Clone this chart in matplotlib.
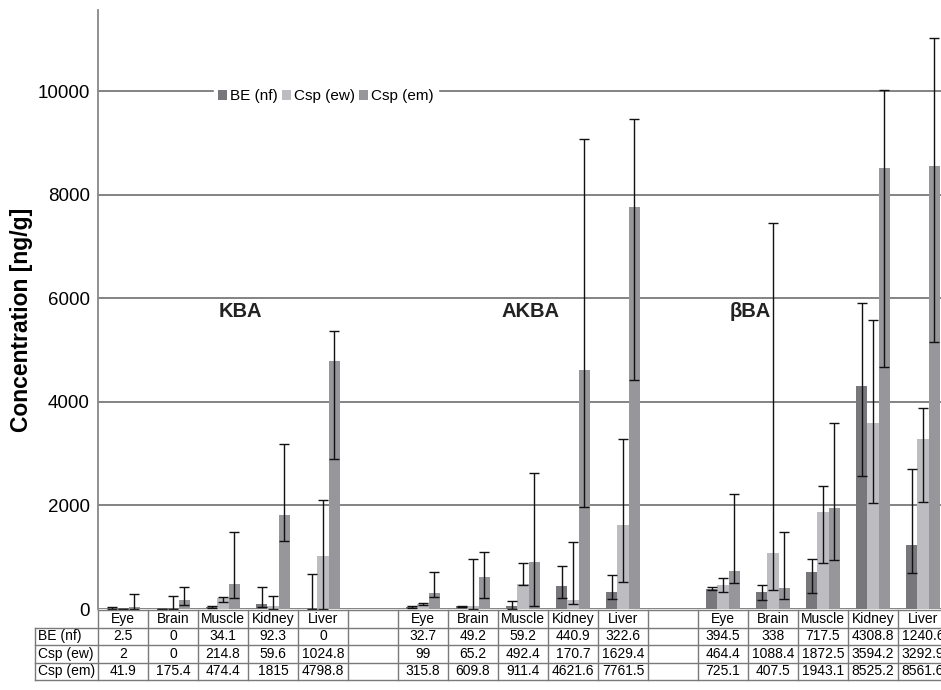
import numpy as np
import matplotlib
matplotlib.use("Agg")
import matplotlib.pyplot as plt

plt.rcParams["font.family"] = ["Liberation Sans", "DejaVu Sans"]

# ── data ──────────────────────────────────────────────────────────────────────
tissues = ["Eye", "Brain", "Muscle", "Kidney", "Liver"]
groups = ["KBA", "AKBA", "βBA"]
series = ["BE (nf)", "Csp (ew)", "Csp (em)"]

be_nf  = [2.5, 0, 34.1, 92.3, 0,
          32.7, 49.2, 59.2, 440.9, 322.6,
          394.5, 338, 717.5, 4308.8, 1240.6]
csp_ew = [2, 0, 214.8, 59.6, 1024.8,
          99, 65.2, 492.4, 170.7, 1629.4,
          464.4, 1088.4, 1872.5, 3594.2, 3292.9]
csp_em = [41.9, 175.4, 474.4, 1815, 4798.8,
          315.8, 609.8, 911.4, 4621.6, 7761.5,
          725.1, 407.5, 1943.1, 8525.2, 8561.6]

# error bars (plus / minus)
be_nf_up  = [35, 0, 15, 333, 670,   20, 15, 103, 396, 340,   25, 132, 256, 1608, 1464]
be_nf_dn  = [2.5, 0, 15, 47, 0,    20, 15, 59, 223, 124,    25, 170, 415, 1739, 551]
csp_ew_up = [0, 257, 25, 197, 1087,  25, 895, 403, 1130, 1649,  135, 6375, 504, 1990, 591]
csp_ew_dn = [0, 0, 75, 59.6, 1024.8, 28, 65.2, 28, 80, 1101,   136, 721, 978, 1554, 1220]
csp_em_up = [250, 256, 1008, 1367, 572,  392, 497, 1722, 4452, 1700,  1491, 1086, 1650, 1496, 2470]
csp_em_dn = [41.9, 104, 268, 507, 1907,  78, 390, 847, 2645, 3337,   217, 207, 996, 3855, 3398]

yticks = [0, 2000, 4000, 6000, 8000, 10000]

# ── layout ────────────────────────────────────────────────────────────────────
W, H = 941, 690
colors = ["#77777c", "#bdbdc1", "#96969b"]
line_gray = "#7a7a7a"

# column positions: 5 tissues, blank, 5 tissues, blank, 5 tissues
xpos = np.array([g * 6 + i for g in range(3) for i in range(5)], dtype=float)
n_cols = 17

fig = plt.figure(figsize=(W / 100, H / 100), dpi=100)
ax = fig.add_axes([98 / W, (H - 609) / H, 850 / W, 599 / H])

bw = 0.225
vals = [be_nf, csp_ew, csp_em]
ups = [be_nf_up, csp_ew_up, csp_em_up]
dns = [be_nf_dn, csp_ew_dn, csp_em_dn]
for k in range(3):
    x = xpos + (k - 1) * bw
    ax.bar(x, vals[k], width=bw, color=colors[k], label=series[k], zorder=3)
    ax.errorbar(x, vals[k], yerr=[dns[k], ups[k]], fmt="none", ecolor="#111111",
                elinewidth=1.0, capsize=3.5, capthick=1.0, zorder=4)

ax.set_xlim(-0.5, n_cols - 0.5)
ax.set_ylim(0, 11570)
ax.set_yticks(yticks)
ax.set_yticklabels([str(t) for t in yticks], fontsize=13.5)
ax.set_xticks([])
ax.tick_params(axis="y", length=0, pad=6)
ax.yaxis.grid(True, color=line_gray, linewidth=1.3, zorder=0)
ax.set_axisbelow(True)
for s in ["top", "right", "bottom"]:
    ax.spines[s].set_visible(False)
ax.spines["left"].set_color("#888888")
ax.spines["left"].set_linewidth(1.3)

# group labels
for name, gx in zip(groups, [2.34, 8.14, 12.54]):
    ax.text(gx, 5740, name, ha="center", va="center", fontsize=14.5, fontweight="bold",
            color="#222222", zorder=5)

leg = ax.legend(loc="center", bbox_to_anchor=(4.06, 9900), bbox_transform=ax.transData,
                ncol=3, fontsize=11, frameon=True, handlelength=0.6, handleheight=0.6,
                handletextpad=0.2, columnspacing=0.25, borderpad=0.25, borderaxespad=0)
leg.get_frame().set_facecolor("white")
leg.get_frame().set_edgecolor("white")
leg.get_frame().set_alpha(1)
leg.set_zorder(6)

fig.text(22 / W, (H - 320) / H, "Concentration [ng/g]", rotation=90, ha="center",
         va="center", fontsize=16.5, fontweight="bold")

# ── data table below the axis ────────────────────────────────────────────────
# same column units as the bars; label column is 63 px wide (columns are 50 px)
lab_left = -0.5 - 63 / 50
tax = fig.add_axes([35 / W, (H - 680) / H, 913 / W, 70 / H])
tax.set_xlim(lab_left, n_cols - 0.5)
tax.set_ylim(4, 0)
tax.axis("off")

header = []
for g in range(3):
    header += tissues + ([""] if g < 2 else [])
row_vals = []
for v in vals:
    r = []
    for g in range(3):
        r += [("%g" % t) for t in v[g * 5:(g + 1) * 5]] + ([""] if g < 2 else [])
    row_vals.append(r)

lkw = dict(color=line_gray, linewidth=1.0, clip_on=False)
tax.plot([-0.5, n_cols - 0.5], [0, 0], **lkw)
for yy in [1, 2, 3, 4]:
    tax.plot([lab_left, n_cols - 0.5], [yy, yy], **lkw)
tax.plot([lab_left, lab_left], [1, 4], **lkw)
for c in range(n_cols + 1):
    tax.plot([c - 0.5, c - 0.5], [0, 4], **lkw)

for c in range(n_cols):
    tax.text(c, 0.5, header[c], ha="center", va="center", fontsize=10)
for r in range(3):
    tax.text(lab_left + 0.06, r + 1.5, series[r], ha="left", va="center", fontsize=10)
    for c in range(n_cols):
        tax.text(c, r + 1.5, row_vals[r][c], ha="center", va="center", fontsize=10)

plt.savefig("out.png", dpi=100)
plt.close()
